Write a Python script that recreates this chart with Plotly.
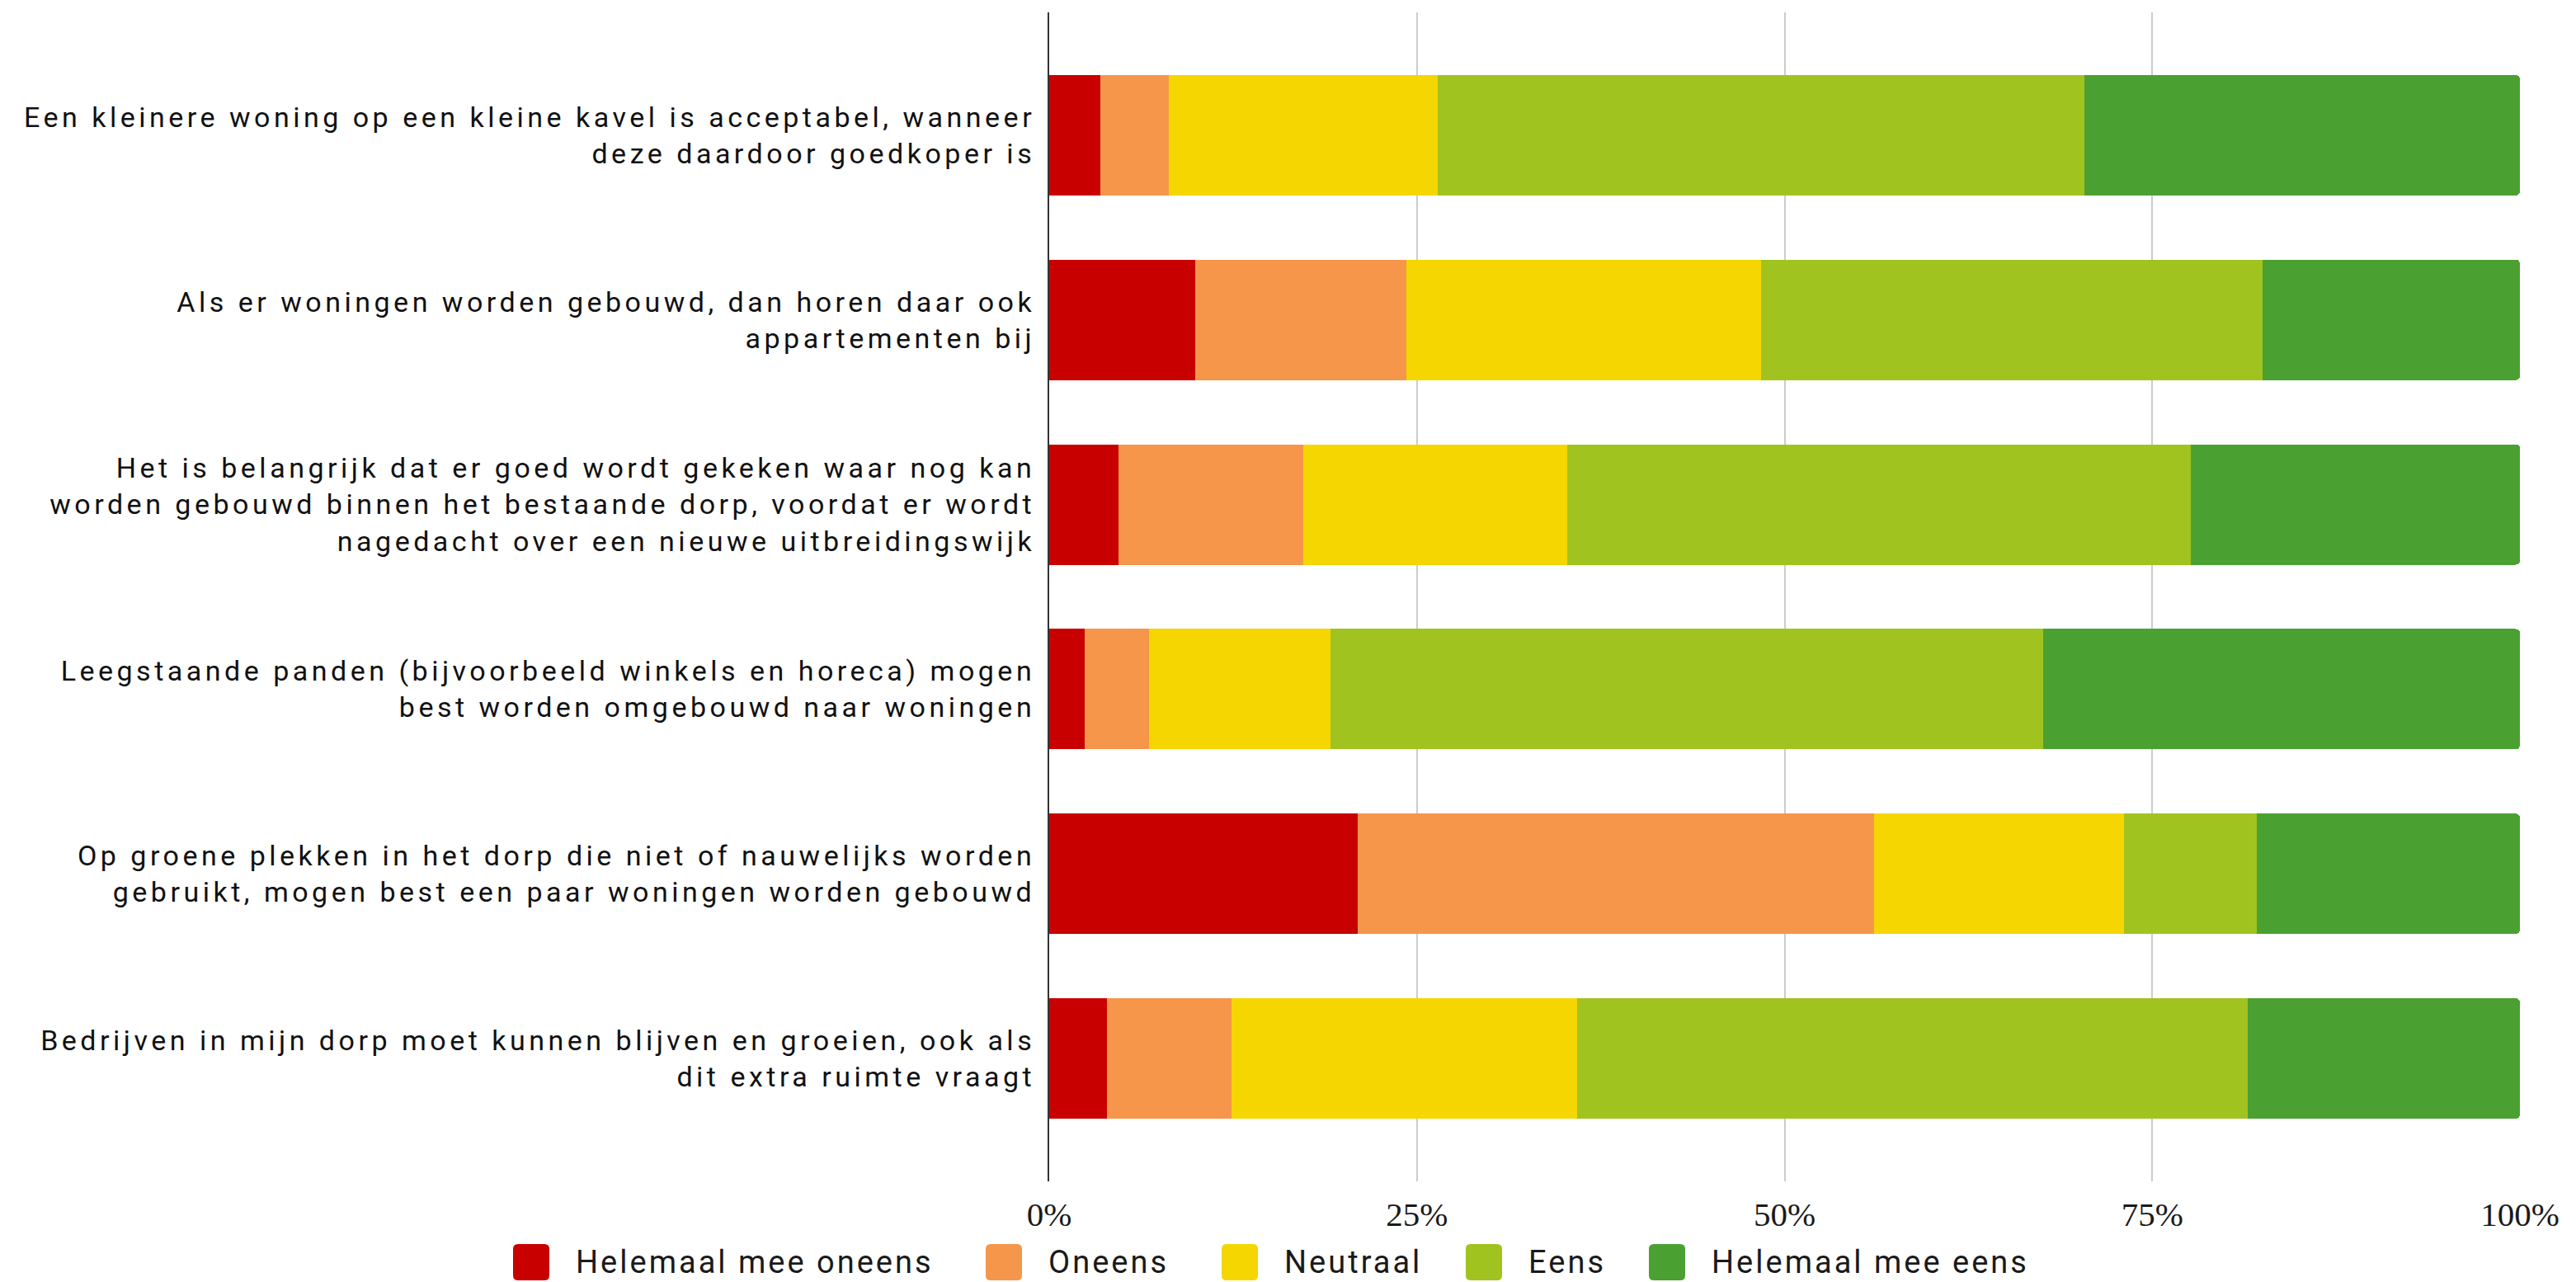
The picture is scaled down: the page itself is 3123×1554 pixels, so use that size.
import plotly.graph_objects as go

categories = [
    "Een kleinere woning op een kleine kavel is acceptabel, wanneer<br>deze daardoor goedkoper is",
    "Als er woningen worden gebouwd, dan horen daar ook<br>appartementen bij",
    "Het is belangrijk dat er goed wordt gekeken waar nog kan<br>worden gebouwd binnen het bestaande dorp, voordat er wordt<br>nagedacht over een nieuwe uitbreidingswijk",
    "Leegstaande panden (bijvoorbeeld winkels en horeca) mogen<br>best worden omgebouwd naar woningen",
    "Op groene plekken in het dorp die niet of nauwelijks worden<br>gebruikt, mogen best een paar woningen worden gebouwd",
    "Bedrijven in mijn dorp moet kunnen blijven en groeien, ook als<br>dit extra ruimte vraagt",
]

series_names = ["Helemaal mee oneens", "Oneens", "Neutraal", "Eens", "Helemaal mee eens"]

helemaal_mee_oneens = [3.45, 9.9, 4.7, 2.4, 21.0, 3.9]
oneens = [4.7, 14.4, 12.6, 4.4, 35.1, 8.5]
neutraal = [18.25, 24.1, 17.9, 12.3, 17.0, 23.5]
eens = [44.0, 34.1, 42.4, 48.5, 9.0, 45.6]
helemaal_mee_eens = [29.6, 17.5, 22.4, 32.4, 17.9, 18.5]

tick_vals = [0, 25, 50, 75, 100]
tick_text = ["0%", "25%", "50%", "75%", "100%"]

colors = ["#C80000", "#F5964A", "#F5D600", "#A1C320", "#4BA032"]
series_values = [helemaal_mee_oneens, oneens, neutraal, eens, helemaal_mee_eens]

W, H = 3123, 1554
ML, MR, MT, MB = 1264, 76, 7, 130
PW = W - ML - MR
PH = H - MT - MB


def spaced(label, px):
    return "<br>".join(
        f"<span style='letter-spacing:{px}px'>{line}</span>" for line in label.split("<br>")
    )


fig = go.Figure()
for name, vals, col in zip(series_names, series_values, colors):
    fig.add_trace(go.Bar(
        y=categories, x=vals, name=name, orientation="h",
        marker=dict(color=col, line=dict(width=0)),
        width=0.652, showlegend=False,
        hovertemplate="%{x:.1f}%<extra>" + name + "</extra>",
    ))

# manual legend (large rounded squares like the reference)
legend_sq_x = [614, 1187, 1473, 1769, 1991]
sq = 44
yc = 1522


def px2x(p):
    return (p - ML) / PW


def py2y(p):
    return (H - MB - p) / PH


def rounded_rect(x0, y0, x1, y1, r):
    X = px2x
    Y = py2y
    return (f"M {X(x0 + r)},{Y(y0)} L {X(x1 - r)},{Y(y0)} Q {X(x1)},{Y(y0)} {X(x1)},{Y(y0 + r)} "
            f"L {X(x1)},{Y(y1 - r)} Q {X(x1)},{Y(y1)} {X(x1 - r)},{Y(y1)} "
            f"L {X(x0 + r)},{Y(y1)} Q {X(x0)},{Y(y1)} {X(x0)},{Y(y1 - r)} "
            f"L {X(x0)},{Y(y0 + r)} Q {X(x0)},{Y(y0)} {X(x0 + r)},{Y(y0)} Z")


for name, col, sx in zip(series_names, colors, legend_sq_x):
    fig.add_shape(type="path", xref="paper", yref="paper",
                  path=rounded_rect(sx, yc - sq / 2, sx + sq, yc + sq / 2, 6),
                  fillcolor=col, line=dict(width=0), layer="above")
    fig.add_annotation(xref="paper", yref="paper", x=px2x(sx + sq + 30), y=py2y(yc),
                       text=spaced(name, 3), showarrow=False, xanchor="left", yanchor="middle",
                       font=dict(family="Roboto", size=38, color="#1a1a1a"))

fig.update_layout(
    width=W, height=H,
    margin=dict(l=ML, r=MR, t=MT, b=MB),
    barmode="stack",
    barcornerradius=5,
    plot_bgcolor="white", paper_bgcolor="white",
    font=dict(family="Roboto", color="#1a1a1a"),
    showlegend=False,
    xaxis=dict(
        range=[0, 100], tickvals=tick_vals, ticktext=tick_text,
        showgrid=True, gridcolor="#cccccc", gridwidth=2,
        zeroline=False, showline=False, ticks="",
        tickfont=dict(family="Liberation Serif", size=41, color="#1a1a1a"),
        ticklabelstandoff=12,
    ),
    yaxis=dict(
        categoryorder="array", categoryarray=categories,
        tickmode="array", tickvals=categories,
        ticktext=[spaced(c, 4.5) for c in categories],
        range=[5.665, -0.665],
        showline=True, linecolor="#333333", linewidth=2,
        showgrid=False, zeroline=False, ticks="",
        tickfont=dict(family="Roboto", size=34, color="#111111"),
        ticklabelstandoff=8,
    ),
)

fig.write_html("out.html")
